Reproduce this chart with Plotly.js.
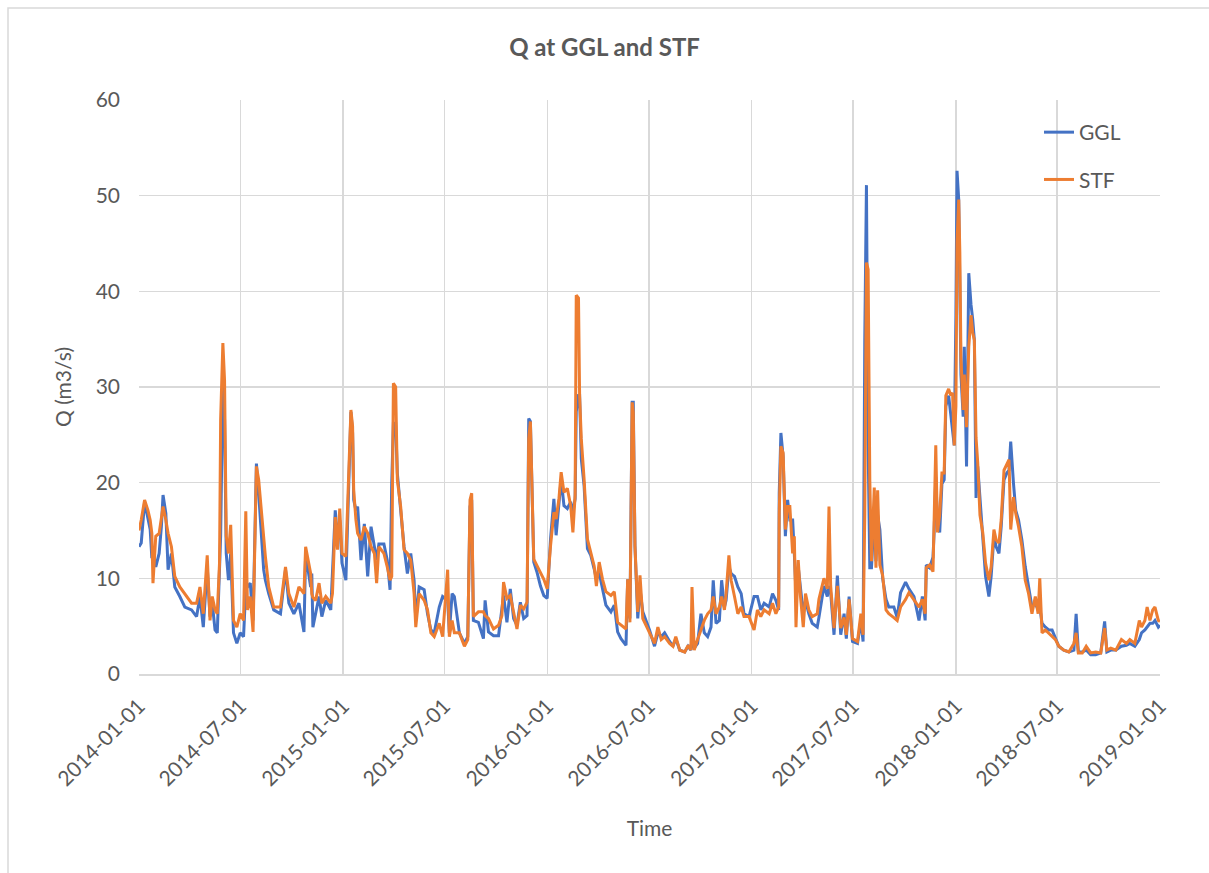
<!DOCTYPE html>
<html>
<head>
<meta charset="utf-8">
<script src="https://cdn.plot.ly/plotly-3.0.1.min.js"></script>
<style>
  html, body { margin: 0; padding: 0; background: #ffffff; }
  #chart { width: 1209px; height: 873px; }
</style>
</head>
<body>
<div id="chart"></div>
<script>
// Dates (irregular sampling around visible features)
const dates = [
"2014-01-01","2014-01-05","2014-01-11","2014-01-17","2014-01-21","2014-01-24","2014-01-26","2014-01-31","2014-02-06","2014-02-10",
"2014-02-13","2014-02-18","2014-02-22","2014-02-28","2014-03-06","2014-03-15","2014-03-24","2014-04-05","2014-04-14","2014-04-20",
"2014-04-26","2014-05-03","2014-05-08","2014-05-12","2014-05-17","2014-05-21","2014-05-25","2014-05-27","2014-05-31","2014-06-03",
"2014-06-06","2014-06-10","2014-06-14","2014-06-19","2014-06-25","2014-07-01","2014-07-07","2014-07-11","2014-07-14","2014-07-19",
"2014-07-24","2014-07-28","2014-07-30","2014-08-03","2014-08-07","2014-08-12","2014-08-15","2014-08-21","2014-08-30","2014-09-11",
"2014-09-20","2014-09-26","2014-10-05","2014-10-14","2014-10-23","2014-10-26","2014-11-04","2014-11-06","2014-11-08","2014-11-13",
"2014-11-19","2014-11-24","2014-12-01","2014-12-10","2014-12-13","2014-12-18","2014-12-22","2014-12-26","2014-12-30","2015-01-06",
"2015-01-11","2015-01-15","2015-01-18","2015-01-20","2015-01-24","2015-01-27","2015-02-02","2015-02-08","2015-02-14","2015-02-20",
"2015-02-26","2015-03-02","2015-03-06","2015-03-15","2015-03-21","2015-03-26","2015-03-29","2015-04-01","2015-04-05","2015-04-08",
"2015-04-14","2015-04-20","2015-04-26","2015-05-02","2015-05-08","2015-05-11","2015-05-17","2015-05-26","2015-06-01","2015-06-07",
"2015-06-13","2015-06-22","2015-06-28","2015-07-07","2015-07-10","2015-07-15","2015-07-19","2015-07-28","2015-08-06","2015-08-12",
"2015-08-16","2015-08-19","2015-08-22","2015-08-31","2015-09-09","2015-09-12","2015-09-18","2015-09-27","2015-10-06","2015-10-12",
"2015-10-15","2015-10-21","2015-10-27","2015-11-02","2015-11-08","2015-11-14","2015-11-20","2015-11-26","2015-11-29","2015-12-02",
"2015-12-05","2015-12-08","2015-12-14","2015-12-20","2015-12-26","2016-01-01","2016-01-07","2016-01-13","2016-01-17","2016-01-22",
"2016-01-26","2016-01-31","2016-02-06","2016-02-12","2016-02-16","2016-02-20","2016-02-22","2016-02-26","2016-02-28","2016-03-02",
"2016-03-07","2016-03-13","2016-03-19","2016-03-25","2016-03-29","2016-04-03","2016-04-09","2016-04-15","2016-04-24","2016-04-30",
"2016-05-06","2016-05-12","2016-05-21","2016-05-24","2016-05-28","2016-06-01","2016-06-03","2016-06-06","2016-06-11","2016-06-15",
"2016-06-20","2016-06-29","2016-07-02","2016-07-11","2016-07-17","2016-07-23","2016-07-29","2016-08-07","2016-08-13","2016-08-18",
"2016-08-25","2016-09-03","2016-09-09","2016-09-14","2016-09-16","2016-09-20","2016-09-26","2016-10-02","2016-10-08","2016-10-14",
"2016-10-20","2016-10-24","2016-10-29","2016-11-04","2016-11-08","2016-11-13","2016-11-16","2016-11-21","2016-11-25","2016-12-01",
"2016-12-07","2016-12-13","2016-12-18","2016-12-27","2017-01-05","2017-01-11","2017-01-17","2017-01-23","2017-02-01","2017-02-07",
"2017-02-13","2017-02-18","2017-02-19","2017-02-22","2017-02-26","2017-03-02","2017-03-06","2017-03-10","2017-03-15","2017-03-18",
"2017-03-21","2017-03-25","2017-03-29","2017-04-03","2017-04-07","2017-04-13","2017-04-19","2017-04-28","2017-05-01","2017-05-10",
"2017-05-16","2017-05-19","2017-05-22","2017-05-28","2017-06-03","2017-06-09","2017-06-15","2017-06-19","2017-06-24","2017-06-30",
"2017-07-09","2017-07-15","2017-07-19","2017-07-22","2017-07-25","2017-07-28","2017-07-31","2017-08-03","2017-08-08","2017-08-11",
"2017-08-14","2017-08-18","2017-08-23","2017-08-29","2017-09-03","2017-09-12","2017-09-18","2017-09-24","2017-10-03","2017-10-09",
"2017-10-18","2017-10-27","2017-11-02","2017-11-07","2017-11-09","2017-11-15","2017-11-21","2017-11-23","2017-11-26","2017-11-29",
"2017-12-03","2017-12-07","2017-12-11","2017-12-14","2017-12-19","2017-12-23","2017-12-26","2017-12-29","2018-01-01","2018-01-03",
"2018-01-06","2018-01-08","2018-01-10","2018-01-14","2018-01-16","2018-01-20","2018-01-24","2018-01-28","2018-01-31","2018-02-03",
"2018-02-06","2018-02-09","2018-02-13","2018-02-18","2018-02-23","2018-03-01","2018-03-05","2018-03-10","2018-03-14","2018-03-19",
"2018-03-23","2018-03-28","2018-04-02","2018-04-06","2018-04-09","2018-04-14","2018-04-18","2018-04-23","2018-04-29","2018-05-05",
"2018-05-11","2018-05-17","2018-05-23","2018-05-28","2018-05-31","2018-06-04","2018-06-10","2018-06-16","2018-06-22","2018-06-28",
"2018-07-04","2018-07-13","2018-07-22","2018-07-31","2018-08-04","2018-08-08","2018-08-15","2018-08-22","2018-08-30","2018-09-08",
"2018-09-17","2018-09-24","2018-09-28","2018-10-05","2018-10-14","2018-10-24","2018-11-02","2018-11-08","2018-11-17","2018-11-25",
"2018-11-29","2018-12-05","2018-12-09","2018-12-14","2018-12-19","2018-12-23","2018-12-29","2019-01-01"
];

// GGL discharge (m3/s)
const ggl = [
13.3,13.7,18.0,16.1,15.1,12.1,12.6,11.2,12.6,15.4,
18.7,16.8,10.9,12.6,9.1,8.1,7.0,6.7,6.0,8.1,
4.9,11.2,6.0,7.4,4.6,4.3,11.4,14.4,31.0,26.6,
12.6,9.8,12.6,4.3,3.2,4.3,3.9,9.1,9.1,9.5,
5.6,14.7,22.0,18.9,15.4,10.9,9.8,8.4,6.7,6.3,
10.9,7.4,6.3,7.4,4.4,12.6,9.1,10.5,4.9,6.3,
8.1,6.0,7.7,6.7,10.5,17.1,14.0,16.1,11.6,9.8,
19.6,27.4,25.2,18.2,17.1,17.5,11.9,15.7,10.2,15.4,
13.3,11.9,13.6,13.6,11.9,8.8,19.9,26.2,26.2,21.0,
17.1,13.3,10.5,12.6,9.8,5.6,9.1,8.8,6.3,4.6,
4.3,7.0,8.1,7.7,4.3,8.4,8.1,4.3,3.2,3.9,
17.5,18.2,5.6,5.4,3.7,7.7,4.4,4.0,4.0,6.8,
8.2,5.4,8.9,5.8,5.1,7.5,5.8,6.1,26.7,26.4,
19.7,11.7,10.6,9.2,8.2,7.9,14.1,18.3,14.5,17.6,
20.4,17.6,17.3,18.0,16.9,18.3,27.4,29.1,29.1,22.5,
19.7,13.1,12.4,11.0,9.9,10.6,8.9,7.2,6.5,7.2,
4.4,3.7,3.0,9.9,5.8,28.4,28.4,13.4,5.8,8.9,
6.5,5.1,4.6,2.9,4.3,3.9,4.3,3.4,2.9,3.7,
2.5,2.3,2.9,2.5,3.6,2.7,3.2,6.3,4.3,3.9,
4.9,9.8,5.3,5.6,9.8,7.0,7.7,11.2,10.5,10.2,
9.1,8.4,6.3,6.0,8.1,8.1,6.7,7.4,7.0,8.4,
7.7,6.7,18.9,25.2,22.7,14.4,18.2,16.1,16.1,12.6,
8.4,11.2,8.8,6.3,7.7,6.3,5.3,4.9,5.9,9.2,
8.1,9.2,8.5,4.1,10.3,4.1,6.3,3.7,8.1,3.4,
3.2,5.6,3.4,34.9,51.1,23.9,11.1,11.1,16.6,11.8,
16.6,15.1,10.0,7.8,7.0,7.0,5.9,8.5,9.6,8.9,
8.1,5.6,8.1,5.6,11.4,11.1,12.2,14.8,20.6,15.9,
14.8,19.9,20.3,28.0,29.1,26.9,25.4,23.9,37.5,52.6,
49.6,42.3,31.3,26.9,34.2,21.7,41.9,38.6,37.1,34.9,
18.4,21.7,18.4,15.1,10.2,8.1,10.2,14.4,13.3,12.6,
15.4,20.3,21.0,21.3,24.3,19.9,17.1,16.1,14.0,11.2,
9.1,7.0,7.4,6.7,7.0,5.3,4.9,4.6,4.6,3.7,
2.9,2.5,2.3,2.5,6.3,2.3,2.3,2.5,2.0,2.0,
2.2,5.5,2.3,2.5,2.5,2.9,3.0,3.2,2.9,3.6,
4.3,4.6,4.9,5.3,5.3,5.6,4.9,5.1
];

// STF discharge (m3/s)
const stf = [
15.0,16.1,18.2,17.1,16.1,14.7,9.5,14.4,14.7,16.1,
17.5,16.1,14.7,13.3,10.2,9.1,8.4,7.4,7.4,9.1,
6.3,12.4,5.6,8.1,6.7,6.3,11.6,26.6,34.6,30.7,
14.4,12.6,15.6,5.6,4.9,6.3,5.6,17.0,6.7,8.1,
4.4,15.1,21.7,20.3,17.5,14.7,12.3,9.1,7.0,7.0,
11.2,8.4,7.0,9.1,8.4,13.3,10.5,8.4,8.0,7.7,
9.5,7.4,8.1,7.4,8.4,16.4,13.0,17.3,12.6,12.3,
21.0,27.6,25.9,19.2,16.1,14.7,14.0,15.4,14.7,13.3,
12.6,9.5,13.3,12.6,11.2,9.8,10.2,30.4,30.0,20.3,
17.5,13.0,12.6,11.9,8.4,4.9,8.4,7.7,6.7,4.3,
3.9,5.3,3.9,10.9,3.9,5.6,4.3,4.3,2.9,3.6,
18.2,18.9,6.0,6.5,6.5,6.1,5.8,4.7,5.1,6.1,
9.6,7.9,8.2,6.5,4.7,7.2,6.8,7.5,24.6,26.4,
20.4,12.0,11.3,10.6,9.9,8.9,13.4,16.9,16.2,18.3,
21.1,19.0,19.4,17.6,14.8,18.7,39.6,39.3,29.1,24.6,
20.4,14.1,12.7,11.3,9.2,11.7,9.9,8.6,8.2,8.6,
5.4,5.1,4.7,9.9,5.4,28.4,27.4,13.4,6.5,10.3,
5.8,4.7,4.3,3.2,4.9,3.6,3.9,3.2,2.9,3.9,
2.5,2.3,3.0,2.5,9.1,2.5,3.6,4.6,5.6,6.3,
6.7,8.1,6.3,7.0,8.1,6.7,8.4,12.4,9.8,8.1,
6.3,7.0,6.0,6.0,4.6,6.7,6.0,6.7,6.3,7.4,
6.3,7.0,16.8,23.8,23.1,15.1,17.5,17.5,12.6,14.4,
4.9,11.9,8.1,4.9,8.4,6.7,6.0,6.3,7.8,10.0,
8.9,17.5,9.2,4.8,9.2,4.8,5.9,4.1,7.8,3.7,
3.4,6.3,4.1,16.6,43.0,42.3,20.3,11.8,19.5,11.1,
19.2,11.4,10.3,6.7,6.3,5.9,5.6,7.0,7.8,8.5,
7.8,7.0,7.8,6.3,11.1,11.4,10.7,16.6,23.9,14.8,
16.6,21.0,21.0,29.1,29.8,29.1,29.4,23.9,28.0,45.2,
49.6,44.1,33.1,27.6,31.3,25.8,34.2,37.5,35.7,34.9,
24.7,22.1,16.6,14.8,11.6,9.8,11.2,15.1,14.0,13.7,
16.1,21.3,22.0,22.4,15.1,18.5,16.8,15.4,13.3,9.8,
8.4,6.3,8.1,6.3,10.0,4.3,4.6,4.3,3.9,3.6,
2.9,2.5,2.3,3.2,4.3,2.2,2.2,2.9,2.2,2.3,
2.2,4.8,2.5,2.7,2.5,3.6,3.2,3.6,3.2,5.6,
4.9,5.6,7.0,5.6,6.7,7.0,5.6,5.5
];

const tickDates = ["2014-01-01","2014-07-01","2015-01-01","2015-07-01","2016-01-01","2016-07-01",
                   "2017-01-01","2017-07-01","2018-01-01","2018-07-01","2019-01-01"];
const yTicks = [0, 10, 20, 30, 40, 50, 60];

const FONT = "Lato, 'Open Sans', sans-serif";
const GREY = "#595959";
const GRID = "#d9d9d9";

const traces = [
  { x: dates, y: ggl, name: "GGL", type: "scatter", mode: "lines", legendgroup: "g1",
    line: { color: "#4472C4", width: 3 } },
  { x: dates, y: stf, name: "STF", type: "scatter", mode: "lines", legendgroup: "g2",
    line: { color: "#ED7D31", width: 3 } }
];

const layout = {
  width: 1209, height: 873,
  paper_bgcolor: "#ffffff", plot_bgcolor: "#ffffff",
  margin: { l: 139, r: 49, t: 100, b: 199 },
  font: { family: FONT, color: GREY, size: 20 },
  title: { text: "<b>Q at GGL and STF</b>", x: 0.5, xanchor: "center",
           y: 1 - 48/873, yanchor: "middle", font: { family: FONT, size: 24, color: GREY } },
  xaxis: {
    type: "date",
    range: ["2014-01-01", "2019-01-01"],
    tickmode: "array", tickvals: tickDates, ticktext: tickDates,
    tickangle: -45,
    tickfont: { family: FONT, size: 21, color: GREY },
    showgrid: true, gridcolor: GRID, gridwidth: 1.3,
    showline: true, linecolor: GRID, linewidth: 1.5,
    zeroline: false, ticks: "", ticklabelstandoff: 10,
    title: { text: "Time", font: { family: FONT, size: 21, color: GREY }, standoff: 32 }
  },
  yaxis: {
    range: [0, 60], tickmode: "array", tickvals: yTicks,
    tickfont: { family: FONT, size: 21, color: GREY },
    showgrid: true, gridcolor: GRID, gridwidth: 1.3,
    zeroline: false, showline: false, ticks: "", ticklabelstandoff: 18,
    title: { text: "Q (m3/s)", font: { family: FONT, size: 21, color: GREY }, standoff: 18 }
  },
  legend: {
    x: (1039 - 139) / 1021, xanchor: "left",
    y: (674 - 112) / 574, yanchor: "top",
    bgcolor: "rgba(0,0,0,0)", borderwidth: 0,
    font: { family: FONT, size: 21, color: GREY },
    traceorder: "grouped", tracegroupgap: 17
  },
  showlegend: true,
  shapes: [
    { type: "rect", xref: "paper", yref: "paper",
      x0: (8 - 139) / 1021, x1: 1.3, y0: -0.6, y1: (674 - 8) / 574,
      line: { color: GRID, width: 1.5 }, fillcolor: "rgba(0,0,0,0)", layer: "below" }
  ]
};

Plotly.newPlot("chart", traces, layout, { staticPlot: true, displayModeBar: false });
</script>
</body>
</html>
